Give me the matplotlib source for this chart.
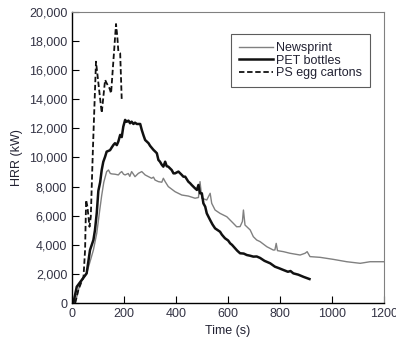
import matplotlib.pyplot as plt
from matplotlib.ticker import FuncFormatter

plt.rcParams['font.family'] = ['Liberation Sans', 'DejaVu Sans']

# newsprint
news_t = [12, 31, 56, 82, 95, 105, 114, 122, 133, 140, 147, 153, 165, 178, 185, 191,
          198, 204, 216, 222, 229, 236, 242, 255, 268, 281, 294, 306, 313, 319, 332,
          345, 351, 358, 370, 396, 422, 447, 473, 486, 492, 499, 518, 531, 537, 550,
          569, 595, 620, 633, 646, 655, 659, 665, 685, 697, 710, 723, 749, 774, 780,
          785, 790, 813, 838, 877, 896, 904, 915, 954, 1005, 1056, 1108, 1146, 1197]
news_hrr = [0, 1350, 2040, 3640, 4800, 6200, 7400, 8300, 9030, 9140, 8900, 8870, 8850,
            8800, 8950, 9030, 8850, 8800, 8900, 8700, 9030, 8850, 8680, 8910, 9030, 8800,
            8680, 8570, 8650, 8450, 8340, 8300, 8570, 8340, 8000, 7650, 7420, 7350, 7200,
            7250, 8340, 7200, 7080, 7540, 6850, 6390, 6160, 5930, 5480, 5240, 5250, 5600,
            6390, 5360, 5020, 4560, 4330, 4220, 3870, 3640, 3650, 4100, 3600, 3530, 3420,
            3300, 3420, 3530, 3190, 3140, 3000, 2840, 2730, 2840, 2840]

# PET bottles
pet_t = [5, 18, 37, 56, 69, 82, 88, 95, 101, 108, 114, 120, 127, 133, 146, 153, 159,
         165, 172, 178, 185, 191, 197, 204, 210, 217, 223, 229, 236, 242, 249, 262,
         268, 275, 281, 294, 300, 313, 320, 326, 332, 338, 345, 351, 358, 364, 370,
         383, 390, 396, 409, 422, 428, 435, 447, 454, 460, 473, 480, 486, 492, 499,
         505, 512, 518, 531, 540, 550, 569, 576, 588, 600, 608, 615, 627, 635, 646,
         660, 672, 685, 697, 710, 723, 740, 762, 780, 795, 813, 830, 840, 851, 870,
         890, 913]
pet_hrr = [0, 1120, 1580, 2040, 3640, 4330, 5000, 6200, 7700, 8300, 9140, 9700, 10050,
           10400, 10500, 10700, 10860, 10980, 10850, 11100, 11550, 11400, 12120, 12580,
           12450, 12530, 12350, 12460, 12300, 12390, 12300, 12300, 11890, 11500, 11200,
           10980, 10800, 10520, 10400, 10290, 9830, 9710, 9500, 9370, 9710, 9400, 9370,
           9140, 8910, 8910, 9030, 8800, 8680, 8680, 8340, 8230, 8110, 7880, 7770, 8110,
           7540, 7540, 6850, 6620, 6160, 5700, 5400, 5130, 4900, 4700, 4450, 4300, 4100,
           4000, 3760, 3600, 3420, 3400, 3300, 3250, 3190, 3200, 3100, 2900, 2730, 2500,
           2400, 2270, 2150, 2200, 2040, 1950, 1800, 1650]

# PS egg cartons
ps_t = [12, 24, 44, 50, 54, 59, 67, 72, 80, 92, 114, 127, 133, 144, 150, 169, 174, 178,
        185, 191]
ps_hrr = [0, 890, 1810, 3640, 7080, 6620, 5240, 5930, 10500, 16580, 13060, 15330, 15100,
          14750, 14410, 19170, 18300, 17270, 17160, 13950]

fig = plt.figure(figsize=(3.96, 3.39), dpi=100)
ax = fig.add_axes([0.182, 0.106, 0.788, 0.859])

ax.plot(news_t, news_hrr, color='#808080', lw=1.0, label='Newsprint')
ax.plot(pet_t, pet_hrr, color='#111111', lw=1.8, label='PET bottles')
ax.plot(ps_t, ps_hrr, color='#111111', lw=1.3, dashes=(3, 1.5), label='PS egg cartons')

ax.set_xlim(0, 1200)
ax.set_ylim(0, 20000)
ax.set_xticks(range(0, 1201, 200))
ax.set_yticks(range(0, 20001, 2000))
ax.yaxis.set_major_formatter(FuncFormatter(lambda v, p: f'{int(v):,}'))
ax.tick_params(direction='in', length=5, labelsize=9, labelcolor='#333344', width=0.8)
ax.spines['top'].set_color('#808080')
ax.spines['right'].set_color('#808080')
ax.spines['left'].set_linewidth(1.0)
ax.spines['bottom'].set_linewidth(1.0)

ax.set_xlabel('Time (s)', fontsize=9, color='#222233', labelpad=4)
ax.set_ylabel('HRR (kW)', fontsize=9, color='#222233', labelpad=4)

leg = ax.legend(loc='upper right', bbox_to_anchor=(0.974, 0.944), fontsize=9,
                handlelength=2.7, handletextpad=0.3, fancybox=False, borderpad=0.6,
                labelspacing=0.05, frameon=True)
leg.get_frame().set_edgecolor('#333333')
leg.get_frame().set_linewidth(0.8)
for t in leg.get_texts():
    t.set_color('#222233')

fig.savefig('out.png', dpi=100)
